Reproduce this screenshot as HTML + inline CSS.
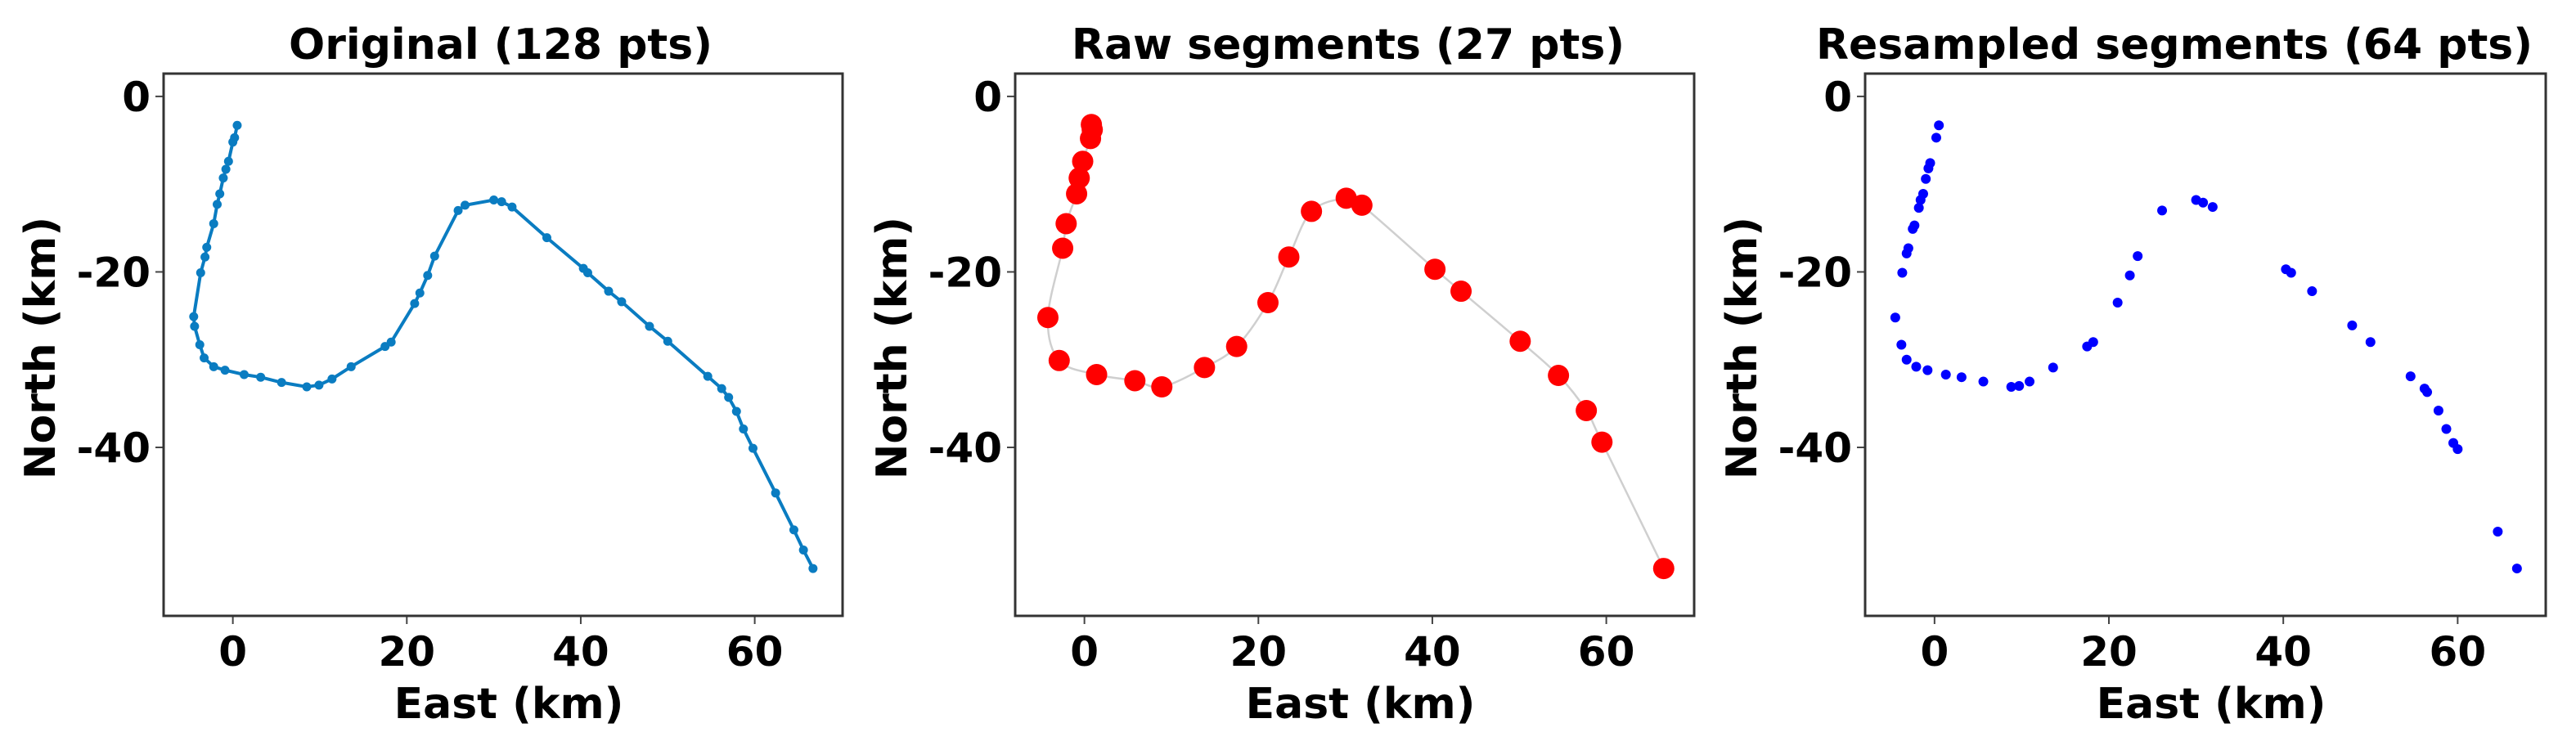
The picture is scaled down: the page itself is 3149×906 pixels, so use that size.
<!DOCTYPE html>
<html><head><meta charset="utf-8">
<style>
html,body{margin:0;padding:0;background:#fff;}
svg{display:block;}
text{font-family:"DejaVu Sans","Liberation Sans",sans-serif;font-weight:bold;fill:#000;}
</style></head>
<body>
<svg id="fig" width="3149" height="906" viewBox="0 0 3149 906" xmlns="http://www.w3.org/2000/svg"></svg>
<script>
const xTicks=[0,20,40,60];
const yTicks=[0,-20,-40];
const xTickLabels=["0","20","40","60"];
const yTickLabels=["0","-20","-40"];
const titles=["Original (128 pts)","Raw segments (27 pts)","Resampled segments (64 pts)"];
const origE=[0.5,0.2,0,-0.5,-0.8,-1.1,-1.5,-1.8,-2.2,-3.0,-3.2,-3.7,-4.5,-4.4,-3.8,-3.3,-2.2,-0.9,1.3,3.2,5.6,8.5,9.9,11.4,13.6,17.5,18.2,20.9,21.5,22.4,23.2,25.9,26.7,30.0,30.9,32.1,36.1,40.3,40.8,43.2,44.7,47.9,50.0,54.6,56.2,57.0,57.9,58.7,59.8,62.4,64.5,65.6,66.7];
const origN=[-3.3,-4.7,-5.2,-7.4,-8.3,-9.3,-11.1,-12.3,-14.5,-17.2,-18.3,-20.1,-25.1,-26.2,-28.3,-29.8,-30.8,-31.2,-31.7,-32.0,-32.6,-33.1,-32.9,-32.2,-30.8,-28.5,-28.0,-23.6,-22.4,-20.4,-18.2,-13.0,-12.4,-11.8,-12.0,-12.6,-16.1,-19.6,-20.1,-22.2,-23.4,-26.2,-27.9,-31.9,-33.3,-34.3,-35.9,-37.9,-40.1,-45.2,-49.4,-51.7,-53.8];
const rawE=[0.8,0.9,0.7,-0.2,-0.6,-0.9,-2.1,-2.5,-4.2,-2.9,1.4,5.8,8.9,13.8,17.5,21.1,23.5,26.1,30.1,31.9,40.3,43.3,50.1,54.5,57.7,59.5,66.6];
const rawN=[-3.2,-3.8,-4.8,-7.4,-9.3,-11.1,-14.5,-17.3,-25.2,-30.1,-31.7,-32.4,-33.1,-30.9,-28.5,-23.5,-18.3,-13.1,-11.6,-12.4,-19.7,-22.2,-27.9,-31.8,-35.8,-39.4,-53.8];
const resE=[0.5,0.2,-0.5,-0.7,-1.0,-1.3,-1.6,-1.8,-2.3,-2.5,-3.0,-3.2,-3.7,-4.5,-3.8,-3.2,-2.1,-0.8,1.3,3.1,5.6,8.8,9.7,10.9,13.6,17.5,18.2,21.0,22.4,23.3,26.1,30.0,30.8,31.9,40.3,40.9,43.3,47.9,50.0,54.6,56.2,56.5,57.8,58.7,59.5,60.0,64.6,66.8];
const resN=[-3.3,-4.7,-7.6,-8.2,-9.4,-11.1,-11.8,-12.7,-14.7,-15.1,-17.3,-17.9,-20.1,-25.2,-28.3,-30.0,-30.8,-31.2,-31.7,-32.0,-32.5,-33.1,-33.0,-32.5,-30.9,-28.5,-28.0,-23.5,-20.4,-18.2,-13.0,-11.8,-12.1,-12.6,-19.7,-20.1,-22.2,-26.1,-28.0,-31.9,-33.3,-33.7,-35.8,-37.9,-39.5,-40.2,-49.6,-53.8];

const NS="http://www.w3.org/2000/svg";
const svg=document.getElementById('fig');
function mk(tag,attrs,parent){const e=document.createElementNS(NS,tag);for(const k in attrs)e.setAttribute(k,attrs[k]);(parent||svg).appendChild(e);return e;}
const X0=-7.96,X1=70.1,Y0=-59.2,Y1=2.6;
const panels=[{l:200,r:1030,tdx:-3},{l:1241,r:2071,tdx:-8},{l:2280,r:3112,tdx:-38}];
const plotTop=90,plotBot=753;
function smoothPath(pts){
  let d="M"+pts[0][0]+","+pts[0][1];
  for(let i=0;i<pts.length-1;i++){
    const p0=pts[Math.max(0,i-1)],p1=pts[i],p2=pts[i+1],p3=pts[Math.min(pts.length-1,i+2)];
    const c1=[p1[0]+(p2[0]-p0[0])/6,p1[1]+(p2[1]-p0[1])/6];
    const c2=[p2[0]-(p3[0]-p1[0])/6,p2[1]-(p3[1]-p1[1])/6];
    d+=" C"+c1[0]+","+c1[1]+" "+c2[0]+","+c2[1]+" "+p2[0]+","+p2[1];
  }
  return d;
}
panels.forEach((p,i)=>{
  const sx=v=>p.l+(v-X0)/(X1-X0)*(p.r-p.l);
  const sy=v=>plotBot-(v-Y0)/(Y1-Y0)*(plotBot-plotTop);
  const g=mk('g',{});
  
  
  const t=mk('text',{x:(p.l+p.r)/2+p.tdx,y:72,'text-anchor':'middle','font-size':52},g);
  t.textContent=titles[i];
  
  
  xTicks.forEach((v,k)=>{
    const tl=mk('line',{x1:sx(v),x2:sx(v),y1:plotBot,y2:plotBot+10,stroke:'#444','stroke-width':2},g);
    
    
    const tx=mk('text',{x:sx(v),y:814,'text-anchor':'middle','font-size':50},g);
    tx.textContent=xTickLabels[k];
    
    
  });
  yTicks.forEach((v,k)=>{
    const tl=mk('line',{x1:p.l-10,x2:p.l,y1:sy(v),y2:sy(v),stroke:'#444','stroke-width':2},g);
    
    
    const ty=mk('text',{x:p.l-16,y:sy(v)+18,'text-anchor':'end','font-size':50},g);
    ty.textContent=yTickLabels[k];
    
    
  });
  const xl=mk('text',{x:(p.l+p.r)/2+7,y:878,'text-anchor':'middle','font-size':52},g);
  xl.textContent="East (km)";
  
  
  const yx=p.l-133, yy=(plotTop+plotBot)/2+4;
  const yl=mk('text',{x:yx,y:yy,'text-anchor':'middle','font-size':52,transform:`rotate(-90 ${yx} ${yy})`},g);
  yl.textContent="North (km)";
  
  
  if(i===0){
    const pts=origE.map((e,k)=>[sx(e),sy(origN[k])]);
    const pl=mk('polyline',{points:pts.map(q=>q.join(',')).join(' '),fill:'none',stroke:'#0a7cc1','stroke-width':4},g);
    
    
    pts.forEach(q=>{const c=mk('circle',{cx:q[0],cy:q[1],r:5.5,fill:'#0a7cc1'},g);
      
      });
  } else if(i===1){
    const pts=rawE.map((e,k)=>[sx(e),sy(rawN[k])]);
    const pl=mk('path',{d:smoothPath(pts),fill:'none',stroke:'#cfcfcf','stroke-width':2.5},g);
    
    
    pts.forEach(q=>{const c=mk('circle',{cx:q[0],cy:q[1],r:13,fill:'#ff0000'},g);
      
      });
  } else {
    resE.forEach((e,k)=>{const c=mk('circle',{cx:sx(e),cy:sy(resN[k]),r:6,fill:'#0000ff'},g);
      
      });
  }
  const fr=mk('rect',{x:p.l,y:plotTop,width:p.r-p.l,height:plotBot-plotTop,fill:'none',stroke:'#333','stroke-width':3},g);
  
  
});
</script>
</body></html>
